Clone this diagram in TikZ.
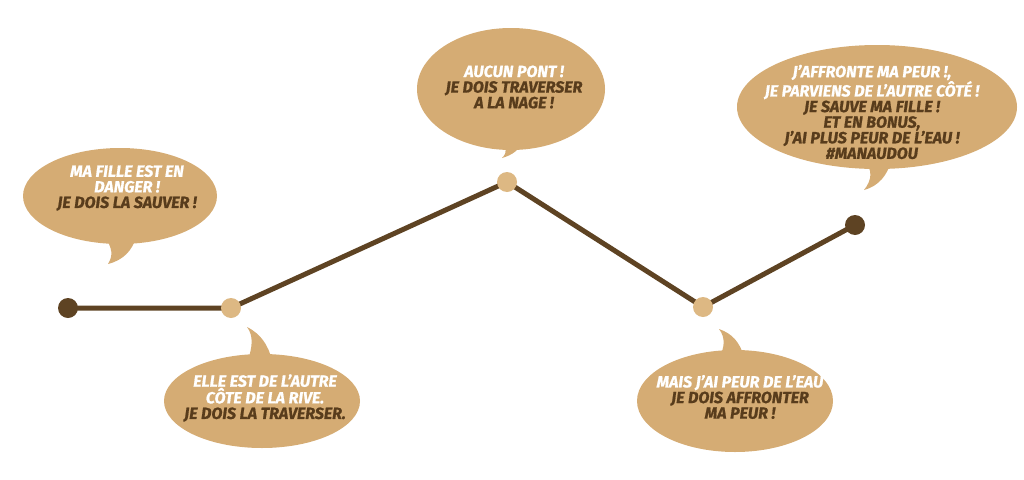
\documentclass[tikz,border=0pt]{standalone}
\usepackage{fontspec}
\setmainfont{Fira Sans}[FakeStretch=0.99, FakeBold=0.9]
\definecolor{tan}{RGB}{213,172,116}
\definecolor{lighttan}{RGB}{221,184,131}
\definecolor{brown}{RGB}{94,67,35}
\definecolor{darktext}{RGB}{88,60,28}
\tikzset{
  bubble/.style={fill=tan},
  bubbletext/.style={align=center, font=\fontsize{16.2}{15.6}\selectfont\bfseries\itshape, inner sep=0pt},
  darkdot/.style={circle, fill=brown, minimum size=20pt, inner sep=0pt},
  lightdot/.style={circle, fill=lighttan, minimum size=20pt, inner sep=0pt},
  track/.style={draw=brown, line width=5pt},
}
\newcommand{\wl}[1]{\textcolor{white}{#1}}
\newcommand{\dl}[1]{\textcolor{darktext}{#1}}
\begin{document}
\begin{tikzpicture}[x=1pt,y=-1pt]
\useasboundingbox (0,0) rectangle (1024,479);
% bubbles
\fill[bubble] (120,196) ellipse [x radius=97, y radius=48];
\fill[bubble] (104,236) .. controls (113,248) and (113,256) .. (108,264) .. controls (124,260) and (132,250) .. (136,238) -- cycle;
\fill[bubble] (262,401) ellipse [x radius=98, y radius=47];
\fill[bubble] (272,360) .. controls (268,345) and (261,334) .. (247,327) .. controls (254,336) and (252,348) .. (248,360) -- cycle;
\fill[bubble] (511,89) ellipse [x radius=94, y radius=61];
\fill[bubble] (499,140) .. controls (507,146) and (508,152) .. (502,158) .. controls (513,155) and (520,149) .. (524,140) -- cycle;
\fill[bubble] (877,107) ellipse [x radius=140, y radius=62];
\fill[bubble] (864,160) .. controls (873,170) and (872,180) .. (864,190) .. controls (879,186) and (887,175) .. (891,162) -- cycle;
\fill[bubble] (735,401) ellipse [x radius=98, y radius=51];
\fill[bubble] (744,356) .. controls (739,342) and (733,334) .. (719,329) .. controls (726,338) and (724,348) .. (720,356) -- cycle;
% texts
\node[bubbletext] (t1) at (127,188) {\wl{MA FILLE EST EN}\\\wl{DANGER !}\\\dl{JE DOIS LA SAUVER !}};
\node[bubbletext] (t2) at (265,398) {\wl{ELLE EST DE L'AUTRE}\\\wl{CÔTE DE LA RIVE.}\\\dl{JE DOIS LA TRAVERSER.}};
\node[bubbletext] (t3) at (514,87) {\wl{AUCUN PONT !}\\\dl{JE DOIS TRAVERSER}\\\dl{A LA NAGE !}};
\node[bubbletext] (t4) at (872,112) {\wl{J'AFFRONTE MA PEUR !,}\\\wl{JE PARVIENS DE L'AUTRE CÔTÉ !}\\\dl{JE SAUVE MA FILLE !}\\\dl{ET EN BONUS,}\\\dl{J'AI PLUS PEUR DE L'EAU !}\\\dl{\#MANAUDOU}};
\node[bubbletext] (t5) at (740,397) {\wl{MAIS J'AI PEUR DE L'EAU}\\\dl{JE DOIS AFFRONTER}\\\dl{MA PEUR !}};
% track
\coordinate (c1) at (68,308);
\coordinate (c2) at (231,308);
\coordinate (c3) at (507,182);
\coordinate (c4) at (703,307);
\coordinate (c5) at (855,225);
\draw[track] (c1) -- (c2) -- (c3) -- (c4) -- (c5);
\node[darkdot] (p1) at (c1) {};
\node[lightdot] (p2) at (c2) {};
\node[lightdot] (p3) at (c3) {};
\node[lightdot] (p4) at (c4) {};
\node[darkdot] (p5) at (c5) {};
\end{tikzpicture}
\end{document}
